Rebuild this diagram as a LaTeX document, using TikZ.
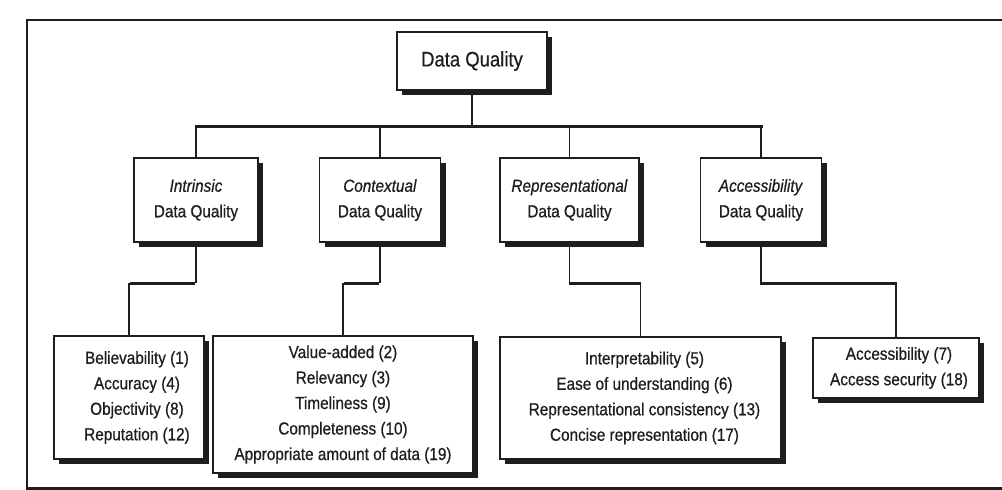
\documentclass[tikz,border=0pt]{standalone}
\usepackage{fontspec}
\setmainfont{Liberation Sans}[FakeStretch=0.88, FakeBold=0.6]
\usetikzlibrary{shadows}
\definecolor{ink}{HTML}{1E1E1E}
\tikzset{
  box/.style={draw=ink, line width=1.8pt, fill=white, inner sep=0pt, align=center, text=ink,
    drop shadow={shadow xshift=5pt, shadow yshift=-5pt, fill=ink, opacity=1}},
  big/.style={font=\fontsize{21}{24}\selectfont},
  norm/.style={font=\fontsize{17.4}{25.5}\selectfont},
  conn/.style={draw=ink, line width=1.6pt},
  bar/.style={draw=ink, line width=3pt},
  frame/.style={draw=ink, line width=2.4pt}
}
\begin{document}
\begin{tikzpicture}[x=1pt, y=-1pt]
\useasboundingbox[fill=white] (0,0) rectangle (1002,490);
% frame
\coordinate (ftr) at (1002,20);
\coordinate (ftl) at (27,20);
\coordinate (fbl) at (27,488.5);
\coordinate (fbr) at (1002,488.5);
\draw[frame] (ftr) -- (ftl) -- (fbl) -- (fbr);
% top
\node[box, big, minimum width=150pt, minimum height=58pt] (dq) at (472,61) {Data Quality};
% categories
\node[box, norm, minimum width=124pt, minimum height=84pt] (I) at (196,200) {\textit{Intrinsic}\\Data Quality};
\node[box, norm, minimum width=121pt, minimum height=84pt] (C) at (380,200) {\textit{Contextual}\\Data Quality};
\node[box, norm, minimum width=139pt, minimum height=84pt] (R) at (569.5,200) {\textit{Representational}\\Data Quality};
\node[box, norm, minimum width=121pt, minimum height=84pt] (A) at (761,200) {\textit{Accessibility}\\Data Quality};
% dimensions
\node[box, norm, minimum width=150pt, minimum height=123pt] (B1) at (129,397.5)
  {\hspace*{16pt}Believability (1)\\\hspace*{16pt}Accuracy (4)\\\hspace*{16pt}Objectivity (8)\\\hspace*{16pt}Reputation (12)};
\node[box, norm, minimum width=260pt, minimum height=137pt] (B2) at (343,404.5)
  {Value-added (2)\\Relevancy (3)\\Timeliness (9)\\Completeness (10)\\Appropriate amount of data (19)};
\node[box, norm, minimum width=281pt, minimum height=122pt] (B3) at (640.5,398)
  {\hspace*{8pt}Interpretability (5)\\\hspace*{8pt}Ease of understanding (6)\\\hspace*{8pt}Representational consistency (13)\\\hspace*{8pt}Concise representation (17)};
\node[box, norm, minimum width=166pt, minimum height=60pt] (B4) at (896,368)
  {\hspace*{6pt}Accessibility (7)\\\hspace*{6pt}Access security (18)};
% upper bus
\coordinate (bus) at (0,126);
\draw[conn] (dq.south) -- (dq.south |- bus);
\draw[bar] ([xshift=-1.5pt]bus -| I.north) -- ([xshift=1.5pt]bus -| A.north);
\foreach \n in {I,C,R,A} \draw[conn] (bus -| \n.north) -- (\n.north);
% lower links
\coordinate (low) at (0,283);
\foreach \u/\l in {I/B1,C/B2,R/B3,A/B4}{
  \draw[conn] (\u.south) -- (\u.south |- low);
  \draw[bar] ([xshift=-0.7pt]\u.south |- low) -- ([xshift=0.7pt]\l.north |- low);
  \draw[conn] (\l.north |- low) -- (\l.north);
}
\end{tikzpicture}
\end{document}
